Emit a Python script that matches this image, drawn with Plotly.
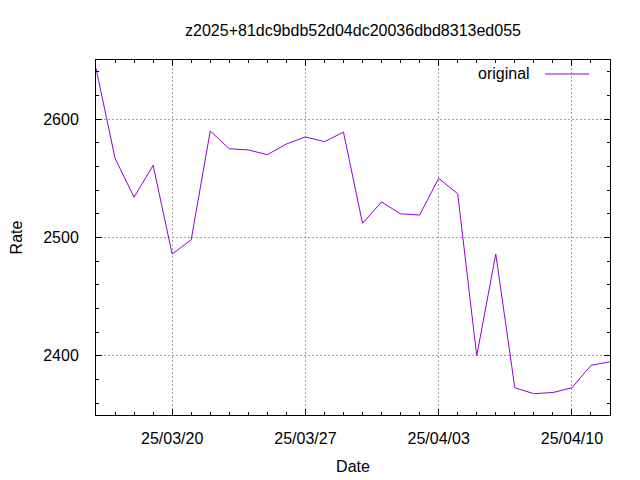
import plotly.graph_objects as go

# ---- data ----
dates = [
    "2025-03-16", "2025-03-17", "2025-03-18", "2025-03-19", "2025-03-20",
    "2025-03-21", "2025-03-22", "2025-03-23", "2025-03-24", "2025-03-25",
    "2025-03-26", "2025-03-27", "2025-03-28", "2025-03-29", "2025-03-30",
    "2025-03-31", "2025-04-01", "2025-04-02", "2025-04-03", "2025-04-04",
    "2025-04-05", "2025-04-06", "2025-04-07", "2025-04-08", "2025-04-09",
    "2025-04-10", "2025-04-11", "2025-04-12",
]
rates = [
    2643, 2567, 2534, 2561, 2486,
    2498, 2590, 2575, 2574, 2570,
    2579, 2585, 2581, 2589, 2512,
    2530, 2520, 2519, 2550, 2537,
    2400, 2486, 2373, 2368, 2369,
    2373, 2392, 2395,
]
series_name = "original"
title_text = "z2025+81dc9bdb52d04dc20036dbd8313ed055"
x_title = "Date"
y_title = "Rate"

FONT = "Liberation Sans, Arial, sans-serif"
FS = 16
LINE_COLOR = "#9400D3"
GRID_COLOR = "#a0a0a0"
DAY = 86400000

# the page body adds an 8px offset; size the figure to fill the rest
W, H = 632, 472
ML, MR, MT, MB = 88, 30, 52, 65
PW, PH = W - ML - MR, H - MT - MB

fig = go.Figure()
fig.add_trace(go.Scatter(
    x=dates, y=rates, mode="lines", name=series_name,
    line=dict(color=LINE_COLOR, width=1), showlegend=False,
))

fig.update_layout(
    width=W, height=H,
    margin=dict(l=ML, r=MR, t=MT, b=MB, autoexpand=False),
    paper_bgcolor="white", plot_bgcolor="white",
    font=dict(family=FONT, size=FS, color="black"),
    title=dict(text=title_text, x=0.5, xref="paper", y=1 - 22 / H,
               yref="container", xanchor="center", yanchor="middle",
               font=dict(family=FONT, size=FS, color="black")),
)

fig.update_xaxes(
    type="date", range=["2025-03-16", "2025-04-12"],
    tick0="2025-03-20", dtick=7 * DAY, tickformat="%y/%m/%d",
    ticks="inside", ticklen=6, tickcolor="black", tickwidth=1,
    showline=True, linecolor="black", linewidth=1, mirror="allticks",
    showgrid=True, gridcolor=GRID_COLOR, griddash="2px,2px", gridwidth=1,
    zeroline=False, automargin=False,
    minor=dict(ticks="inside", ticklen=3, dtick=DAY, tick0="2025-03-16",
               tickcolor="black", showgrid=False),
    ticklabelstandoff=9,
    title=dict(text=x_title, standoff=14, font=dict(size=FS)),
)
fig.update_yaxes(
    range=[2350, 2650], tick0=2400, dtick=100,
    ticks="inside", ticklen=6, tickcolor="black", tickwidth=1,
    showline=True, linecolor="black", linewidth=1, mirror="allticks",
    showgrid=True, gridcolor=GRID_COLOR, griddash="2px,2px", gridwidth=1,
    zeroline=False, automargin=False,
    minor=dict(ticks="inside", ticklen=3, dtick=20, tick0=2400,
               tickcolor="black", showgrid=False),
    ticklabelstandoff=13,
    title=dict(text=y_title, standoff=20, font=dict(size=FS)),
)

# gnuplot-style key: text on the left, line sample on the right
fig.add_annotation(
    text=series_name, xref="paper", yref="paper",
    x=(532 - 96) / PW, y=1 - 14 / PH,
    xanchor="right", yanchor="middle", showarrow=False,
    font=dict(family=FONT, size=FS, color="black"),
)
fig.add_shape(
    type="line", xref="paper", yref="paper",
    x0=(545 - 96) / PW, x1=(589 - 96) / PW,
    y0=1 - 14 / PH, y1=1 - 14 / PH,
    line=dict(color=LINE_COLOR, width=1),
)

fig.write_html("out.html")
